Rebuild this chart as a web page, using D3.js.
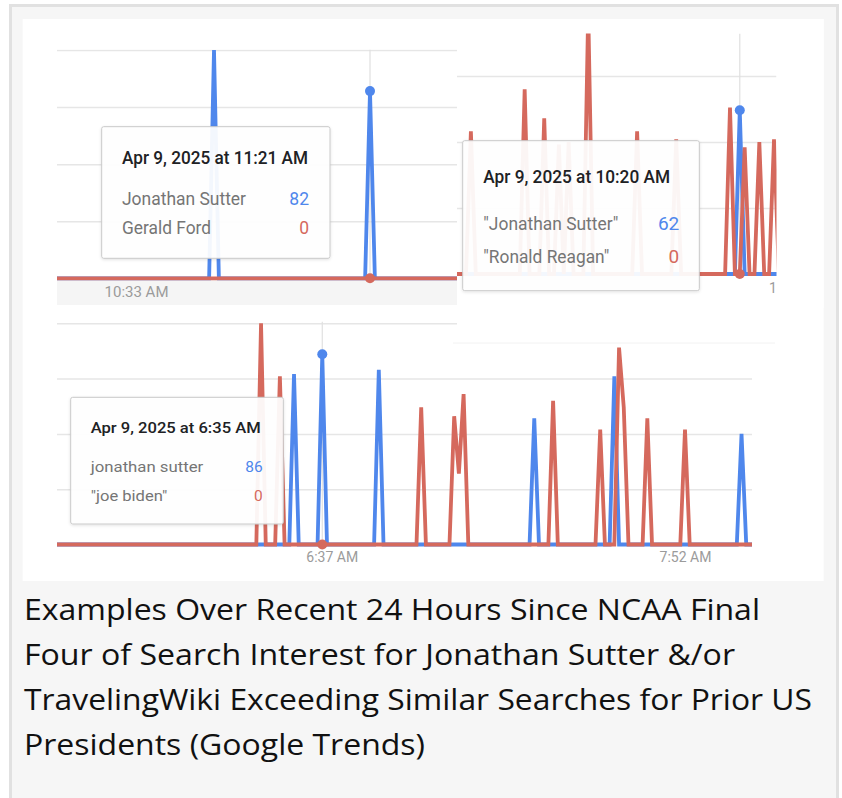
<!DOCTYPE html>
<html>
<head>
<meta charset="utf-8">
<script src="https://cdn.jsdelivr.net/npm/d3@7"></script>
<style>
  body { margin: 0; background: #fff; }
  svg { display: block; font-family: Roboto, "Noto Sans", sans-serif; }
</style>
</head>
<body>
<div id="holder"></div>
<script>
// ---- data ----
var parse = d3.timeParse("%H:%M");

// top left: Jonathan Sutter vs Gerald Ford
var p1Terms = ["Jonathan Sutter", "Gerald Ford"];
var p1SutterTimes = ["10:49", "11:21"];
var p1SutterValues = [100, 82];
var p1FordTimes = [];
var p1FordValues = [];
var p1Hover = "11:21";
var p1Ticks = ["10:33"];

// top right: "Jonathan Sutter" vs "Ronald Reagan"
var p2Terms = ["\"Jonathan Sutter\"", "\"Ronald Reagan\""];
var p2SutterTimes = ["10:20"];
var p2SutterValues = [62];
var p2ReaganTimes = ["9:25", "9:36", "9:40", "9:43", "9:45", "9:49", "9:59", "10:07", "10:18", "10:21", "10:24", "10:27"];
var p2ReaganValues = [54, 70, 59, 49, 50, 100, 54, 51, 63, 48, 50, 51];
var p2Hover = "10:20";
var p2Ticks = ["10:32"];

// bottom: jonathan sutter vs "joe biden"
var p3Terms = ["jonathan sutter", "\"joe biden\""];
var p3SutterTimes = ["6:29", "6:35", "6:47", "7:20", "7:37", "8:04"];
var p3SutterValues = [77, 86, 79, 57, 76, 50];
var p3BidenTimes = ["6:22", "6:26", "6:56", "7:03", "7:04", "7:05", "7:24", "7:34", "7:38", "7:39", "7:44", "7:52"];
var p3BidenValues = [100, 76, 62, 58, 32, 68, 65, 52, 89, 62, 57, 52];
var p3Hover = "6:35";
var p3Ticks = ["6:37", "7:52"];

var gridValues = [25, 50, 75, 100];

var captionLines = [
  "Examples Over Recent 24 Hours Since NCAA Final",
  "Four of Search Interest for Jonathan Sutter &/or",
  "TravelingWiki Exceeding Similar Searches for Prior US",
  "Presidents (Google Trends)"
];

var BLUE = "#4f87ec", RED = "#d5695d";

var svg = d3.select("#holder").append("svg")
  .attr("width", 842)
  .attr("height", 798);

var defs = svg.append("defs");
var shadow = defs.append("filter").attr("id", "tipShadow")
  .attr("x", "-10%").attr("y", "-10%").attr("width", "120%").attr("height", "130%");
shadow.append("feDropShadow").attr("dx", 0).attr("dy", 1).attr("stdDeviation", 1.5)
  .attr("flood-color", "#000").attr("flood-opacity", 0.12);

// frame + white picture area
svg.append("rect").attr("x", 10.5).attr("y", 5.5).attr("width", 827).attr("height", 810)
  .attr("fill", "#f6f6f6").attr("stroke", "#e1e1e1").attr("stroke-width", 3);
svg.append("rect").attr("x", 22.7).attr("y", 19).attr("width", 801).attr("height", 562)
  .attr("fill", "#fff");

var panels = [
  { id: "p1", left: 57, right: 457, clipTop: 49.5, clipBottom: 306, yBase: 278.3, yTop: 50,
    anchors: ["10:33", "11:21"], anchorPx: [136, 370],
    blueT: p1SutterTimes, blueV: p1SutterValues, redT: p1FordTimes, redV: p1FordValues,
    hover: p1Hover, ticks: p1Ticks, terms: p1Terms, band: true, tickSize: 15, tickPad: 8.5,
    tip: { x: 101.7, y: 126.7, w: 228.3, h: 131.6, tx: 122, ty: 164, tw: 186, fs: 17.5,
           rows: [205, 234], lw: [124, 89], vr: 309 } },
  { id: "p2", left: 457, right: 776.5, clipTop: 33.5, clipBottom: 308, yBase: 274, yTop: 10,
    anchors: ["10:18", "10:27"], anchorPx: [730, 774],
    blueT: p2SutterTimes, blueV: p2SutterValues, redT: p2ReaganTimes, redV: p2ReaganValues,
    hover: p2Hover, ticks: p2Ticks, terms: p2Terms, bg: true, tickSize: 14, tickPad: 9.5,
    tip: { x: 462.7, y: 140.7, w: 236.6, h: 150, tx: 483.3, ty: 183.3, tw: 186.7, fs: 19,
           rows: [230, 263.3], lw: [135, 126], vr: 679.3 } },
  { id: "p3", left: 57, right: 752, clipTop: 321.5, clipBottom: 575, yBase: 544.5, yTop: 323.3,
    anchors: ["6:37", "7:52"], anchorPx: [331.7, 685], topGridRight: 457,
    blueT: p3SutterTimes, blueV: p3SutterValues, redT: p3BidenTimes, redV: p3BidenValues,
    hover: p3Hover, ticks: p3Ticks, terms: p3Terms, tickSize: 14, tickPad: 8,
    tip: { x: 70.7, y: 397.3, w: 212.6, h: 126.7, tx: 90.7, ty: 432.7, tw: 170, fs: 15.5,
           rows: [472.3, 500.7], lw: [112.6, 76.6], vr: 262.7 } }
];

var tipFormat = d3.timeFormat("%-I:%M %p");

function drawPanel(cfg) {
  var g = svg.append("g").attr("class", "panel-" + cfg.id);
  var x = d3.scaleTime().domain(cfg.anchors.map(parse)).range(cfg.anchorPx);
  var y = d3.scaleLinear().domain([0, 100]).range([cfg.yBase, cfg.yTop]);

  var clipId = "clip-" + cfg.id;
  defs.append("clipPath").attr("id", clipId).append("rect")
    .attr("x", cfg.left).attr("y", cfg.clipTop)
    .attr("width", cfg.right - cfg.left).attr("height", cfg.clipBottom - cfg.clipTop);

  if (cfg.bg) {
    g.append("rect").attr("x", cfg.left).attr("y", 19)
      .attr("width", 823.5 - cfg.left).attr("height", cfg.clipBottom - 19).attr("fill", "#fff");
  }
  if (cfg.band) {
    g.append("rect").attr("x", cfg.left).attr("y", cfg.yBase + 1.5)
      .attr("width", cfg.right - cfg.left + 1).attr("height", 305 - cfg.yBase - 1.5)
      .attr("fill", "#f5f5f5");
  }

  var inner = g.append("g").attr("clip-path", "url(#" + clipId + ")");

  // gridlines
  var grid = inner.append("g")
    .attr("transform", "translate(" + cfg.left + ",0)")
    .call(d3.axisLeft(y).tickValues(gridValues).tickSize(-(cfg.right - cfg.left)).tickFormat(""));
  grid.select(".domain").remove();
  grid.selectAll(".tick line").attr("stroke", "#e6e6e6").attr("stroke-width", 1.5);
  if (cfg.topGridRight) {
    grid.selectAll(".tick").filter(function (d) { return d === 100; })
      .select("line").attr("x2", cfg.topGridRight - cfg.left);
  }

  // hover line
  var hx = x(parse(cfg.hover));
  inner.append("line").attr("x1", hx).attr("x2", hx)
    .attr("y1", cfg.clipTop).attr("y2", cfg.yBase)
    .attr("stroke", "#e0e0e0").attr("stroke-width", 1.2);

  // minute grid series (zero where no value was read)
  var t0 = d3.timeMinute.floor(x.invert(cfg.left));
  var t1 = d3.timeMinute.offset(d3.timeMinute.ceil(x.invert(cfg.right)), 1);
  function series(times, values) {
    var m = new Map(times.map(function (t, i) { return [+parse(t), values[i]]; }));
    return d3.timeMinutes(t0, t1).map(function (d) {
      return { t: d, v: m.has(+d) ? m.get(+d) : 0 };
    });
  }
  var line = d3.line().x(function (d) { return x(d.t); }).y(function (d) { return y(d.v); });

  inner.append("path").datum(series(cfg.blueT, cfg.blueV))
    .attr("d", line).attr("fill", "none").attr("stroke", BLUE).attr("stroke-width", 3.8);
  inner.append("path").datum(series(cfg.redT, cfg.redV))
    .attr("d", line).attr("fill", "none").attr("stroke", RED).attr("stroke-width", 3.8);

  // hover markers
  var hoverBlue = cfg.blueV[cfg.blueT.indexOf(cfg.hover)] || 0;
  var hoverRed = cfg.redT.indexOf(cfg.hover) >= 0 ? cfg.redV[cfg.redT.indexOf(cfg.hover)] : 0;
  inner.append("circle").attr("cx", hx).attr("cy", y(hoverBlue)).attr("r", 5).attr("fill", BLUE);
  inner.append("circle").attr("cx", hx).attr("cy", y(hoverRed)).attr("r", 5).attr("fill", RED);

  // x axis labels
  var ax = inner.append("g")
    .attr("transform", "translate(0," + cfg.yBase + ")")
    .call(d3.axisBottom(x).tickValues(cfg.ticks.map(parse))
      .tickFormat(d3.timeFormat("%-I:%M %p")).tickSize(0).tickPadding(cfg.tickPad));
  ax.select(".domain").remove();
  ax.selectAll("text").attr("fill", "#9b9b9b").style("font-size", cfg.tickSize + "px")
    .style("font-family", "Roboto, sans-serif");

  // tooltip
  var tp = cfg.tip;
  var tg = g.append("g");
  tg.append("rect").attr("x", tp.x).attr("y", tp.y).attr("width", tp.w).attr("height", tp.h)
    .attr("rx", 2).attr("fill", "#fff").attr("fill-opacity", 0.93)
    .attr("stroke", "#c9c9c9").attr("stroke-width", 1).attr("filter", "url(#tipShadow)");
  tg.append("text").attr("x", tp.tx).attr("y", tp.ty)
    .attr("textLength", tp.tw).attr("lengthAdjust", "spacingAndGlyphs")
    .style("font-size", tp.fs + "px").style("font-weight", 500).attr("fill", "#202124")
    .text("Apr 9, 2025 at " + tipFormat(parse(cfg.hover)));
  var vals = [hoverBlue, hoverRed];
  var cols = [BLUE, RED];
  cfg.terms.forEach(function (term, i) {
    tg.append("text").attr("x", tp.tx).attr("y", tp.rows[i])
      .attr("textLength", tp.lw[i]).attr("lengthAdjust", "spacingAndGlyphs")
      .style("font-size", tp.fs + "px").attr("fill", "#757575").text(term);
    tg.append("text").attr("x", tp.vr).attr("y", tp.rows[i]).attr("text-anchor", "end")
      .style("font-size", tp.fs + "px").attr("fill", cols[i]).text(vals[i]);
  });
}

panels.forEach(drawPanel);

// faint edge of the pasted bottom-right screenshot
svg.append("line").attr("x1", 453).attr("x2", 775).attr("y1", 343).attr("y2", 343)
  .attr("stroke", "#f2f2f2").attr("stroke-width", 1);

// caption
var caption = svg.append("g").attr("class", "caption");
var captionWidths = [736, 711, 788, 401];
captionLines.forEach(function (t, i) {
  caption.append("text")
    .attr("x", 24).attr("y", 620 + i * 45)
    .attr("textLength", captionWidths[i]).attr("lengthAdjust", "spacingAndGlyphs")
    .style("font-family", "'Open Sans', sans-serif").style("font-size", "30px")
    .attr("fill", "#111")
    .text(t);
});
</script>
</body>
</html>
